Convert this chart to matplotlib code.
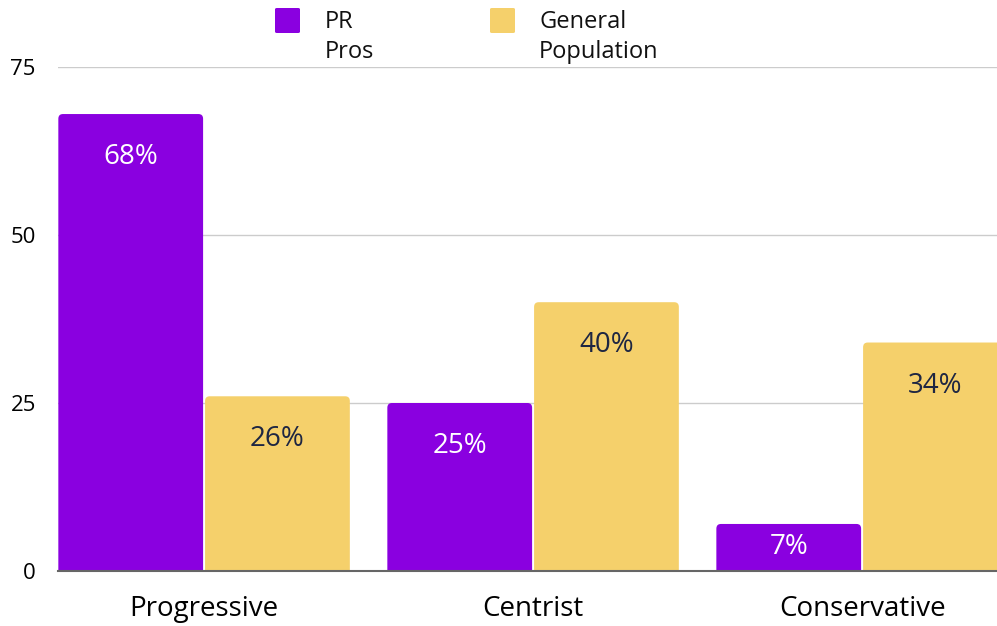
import numpy as np
import matplotlib.pyplot as plt
from matplotlib.patches import FancyBboxPatch

categories = ['Progressive', 'Centrist', 'Conservative']
pr_pros = [68, 25, 7]
general_pop = [26, 40, 34]
series_names = ['PR\nPros', 'General\nPopulation']
yticks = [0, 25, 50, 75]

PURPLE = '#8A00E0'
YELLOW = '#F5D06B'
NAVY = '#1E2642'

plt.rcParams['font.family'] = ['Open Sans', 'DejaVu Sans']


def rounded_bars(ax, bars, color):
    # round the top corners; the bottom ones start below 0 and get clipped
    for b in bars:
        x, w, h = b.get_x(), b.get_width(), b.get_height()
        b.set_visible(False)
        ax.add_patch(FancyBboxPatch((x, -3), w, h + 3,
                                    boxstyle='round,pad=0,rounding_size=0.014',
                                    mutation_aspect=50, color=color, lw=0, zorder=2))


def draw_chart():
    fig = plt.figure(figsize=(9.97, 6.26), dpi=100)
    ax = fig.add_axes([58 / 997, 1 - 571 / 626, 1 - 58 / 997, (571 - 67) / 626])

    index = np.arange(len(categories))
    bar_width = 0.44
    off = 0.223
    b1 = ax.bar(index - off, pr_pros, bar_width, color=PURPLE)
    b2 = ax.bar(index + off, general_pop, bar_width, color=YELLOW)
    rounded_bars(ax, b1, PURPLE)
    rounded_bars(ax, b2, YELLOW)

    for bars, vals, tc in ((b1, pr_pros, 'white'), (b2, general_pop, NAVY)):
        for b, v in zip(bars, vals):
            cx = b.get_x() + b.get_width() / 2
            if v > 12:
                ax.annotate(f'{v}%', (cx, v), xytext=(0, -31), textcoords='offset points',
                            ha='center', va='center', fontsize=20, color=tc, zorder=3)
            else:
                ax.text(cx, v / 2, f'{v}%', ha='center', va='center',
                        fontsize=20, color=tc, zorder=3)

    ax.set_xlim(-0.444, 2.41)
    ax.set_ylim(0, 75)
    ax.set_yticks(yticks)
    ax.set_yticklabels([str(t) for t in yticks], fontsize=16)
    ax.set_xticks(index)
    ax.set_xticklabels(categories, fontsize=20)
    ax.tick_params(axis='y', length=0, pad=16)
    ax.tick_params(axis='x', length=0, pad=17)
    for t in yticks[1:]:
        ax.axhline(t, color='#CCCCCC', lw=1, zorder=1)
    for s in ['top', 'right', 'left']:
        ax.spines[s].set_visible(False)
    ax.spines['bottom'].set_color('#666666')
    ax.spines['bottom'].set_linewidth(1.5)
    ax.spines['bottom'].set_zorder(4)

    # legend drawn by hand at the top
    for sx, tx, col, name in ((275, 325, PURPLE, series_names[0]),
                              (490, 539, YELLOW, series_names[1])):
        fig.patches.append(FancyBboxPatch((sx / 997, 1 - 33 / 626), 25 / 997, 25 / 626,
                                          boxstyle='round,pad=0,rounding_size=0.002',
                                          transform=fig.transFigure, color=col, lw=0))
        fig.text(tx / 997, 1 - 10 / 626, name, ha='left', va='top', fontsize=17,
                 linespacing=1.35, color='#111111')

    fig.savefig('out.png', dpi=100)


if __name__ == '__main__':
    draw_chart()
